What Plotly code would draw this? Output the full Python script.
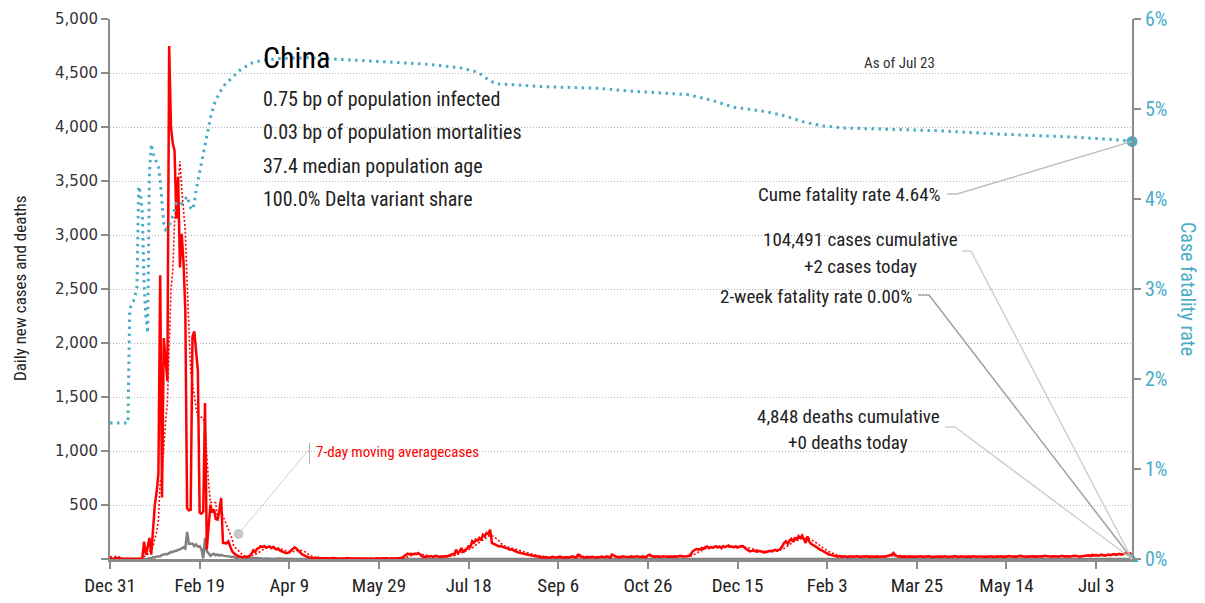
import pandas as pd
import plotly.graph_objects as go

# ── Data ──────────────────────────────────────────────────────────────────────
START_DATE = "2019-12-31"

DAILY_CASES = [
    27, 0, 0, 17, 0, 15, 0, 0, 0, 0,
    0, 0, 0, 0, 0, 0, 0, 0, 4, 160,
    40, 110, 195, 40, 250, 500, 620, 790, 2628, 570,
    2046, 1800, 1650, 4750, 4000, 3850, 3780, 3150, 3540, 2700,
    3010, 2750, 2300, 470, 450, 455, 2060, 2107, 1950, 1745,
    430, 420, 440, 1445, 90, 330, 503, 430, 460, 370,
    364, 450, 565, 150, 148, 145, 163, 110, 75, 55,
    40, 30, 25, 20, 15, 22, 16, 25, 30, 50,
    80, 65, 95, 100, 117, 110, 120, 105, 115, 117,
    100, 112, 95, 88, 93, 75, 70, 60, 55, 55,
    60, 80, 90, 108, 95, 75, 60, 45, 35, 25,
    20, 15, 10, 8, 10, 6, 12, 5, 8, 4,
    6, 7, 3, 5, 9, 4, 6, 3, 2, 5,
    7, 4, 10, 6, 3, 2, 4, 5, 3, 8,
    4, 3, 2, 5, 4, 6, 3, 2, 4, 7,
    3, 5, 2, 4, 6, 3, 5, 2, 4, 3,
    6, 8, 10, 11, 25, 40, 50, 45, 48, 42,
    50, 45, 55, 40, 25, 20, 18, 25, 22, 28,
    20, 25, 30, 22, 18, 25, 20, 28, 24, 30,
    35, 45, 40, 86, 55, 70, 102, 60, 85, 95,
    117, 110, 164, 150, 179, 170, 194, 175, 225, 210,
    241, 230, 272, 148, 140, 133, 125, 117, 120, 110,
    105, 102, 95, 86, 90, 80, 71, 65, 60, 55,
    52, 50, 45, 40, 38, 35, 31, 28, 25, 20,
    18, 15, 12, 18, 14, 10, 16, 20, 15, 12,
    18, 22, 14, 10, 16, 13, 15, 20, 25, 18,
    14, 40, 35, 20, 15, 12, 18, 14, 16, 20,
    15, 12, 18, 14, 22, 20, 16, 25, 18, 14,
    40, 30, 22, 18, 15, 20, 25, 22, 18, 16,
    20, 24, 18, 22, 26, 20, 18, 24, 20, 16,
    35, 40, 28, 22, 20, 25, 22, 18, 24, 26,
    20, 22, 28, 24, 20, 25, 22, 26, 30, 24,
    22, 20, 25, 30, 45, 71, 80, 93, 90, 87,
    102, 95, 110, 117, 100, 110, 105, 112, 118, 108,
    115, 100, 120, 110, 118, 126, 112, 115, 108, 118,
    105, 112, 120, 118, 100, 90, 80, 71, 75, 80,
    72, 68, 75, 70, 65, 60, 65, 70, 75, 72,
    80, 85, 75, 87, 95, 120, 150, 164, 140, 170,
    186, 160, 200, 175, 211, 195, 217, 180, 149, 210,
    160, 140, 133, 120, 110, 95, 87, 80, 70, 56,
    50, 42, 38, 34, 30, 25, 22, 28, 20, 24,
    26, 18, 22, 25, 20, 24, 22, 26, 20, 18,
    25, 22, 28, 20, 24, 22, 26, 20, 24, 18,
    22, 25, 20, 28, 30, 35, 40, 56, 32, 25,
    22, 20, 24, 22, 18, 20, 24, 22, 25, 18,
    20, 24, 26, 20, 22, 18, 22, 25, 20, 16,
    20, 22, 18, 24, 20, 22, 26, 20, 18, 24,
    22, 28, 20, 18, 22, 25, 20, 22, 18, 24,
    20, 22, 26, 20, 18, 22, 24, 20, 18, 22,
    20, 25, 22, 18, 24, 20, 22, 26, 20, 24,
    22, 28, 25, 22, 20, 24, 22, 28, 30, 24,
    22, 26, 20, 24, 28, 25, 22, 20, 24, 26,
    22, 30, 26, 22, 24, 20, 25, 28, 24, 22,
    26, 30, 24, 28, 25, 22, 26, 24, 30, 28,
    24, 22, 26, 28, 32, 30, 35, 28, 40, 32,
    38, 30, 36, 40, 34, 30, 38, 42, 36, 40,
    45, 38, 42, 48, 40, 45, 50, 56, 48, 52,
    2,
]

DAILY_DEATHS = [
    0, 0, 0, 0, 0, 0, 0, 0, 0, 0,
    0, 0, 0, 0, 0, 0, 0, 0, 0, 0,
    1, 3, 8, 8, 16, 15, 24, 26, 26, 38,
    43, 46, 45, 57, 64, 65, 73, 73, 86, 89,
    97, 108, 97, 250, 140, 142, 143, 120, 136, 114,
    118, 90, 5, 195, 71, 52, 29, 44, 47, 35,
    42, 31, 38, 31, 30, 28, 27, 22, 17, 22,
    11, 7, 13, 10, 14, 13, 11, 8, 3, 7,
    6, 9, 7, 4, 6, 5, 3, 5, 4, 1,
    6, 2, 1, 4, 2, 3, 1, 2, 3, 1,
] + [0] * 471

CFR_DATES = [
    "2019-12-31", "2020-01-10", "2020-01-11", "2020-01-12", "2020-01-13",
    "2020-01-14", "2020-01-15", "2020-01-16", "2020-01-17", "2020-01-18",
    "2020-01-19", "2020-01-20", "2020-01-21", "2020-01-22", "2020-01-23",
    "2020-01-24", "2020-01-25", "2020-01-26", "2020-01-27", "2020-01-28",
    "2020-01-29", "2020-01-30", "2020-01-31", "2020-02-01", "2020-02-02",
    "2020-02-03", "2020-02-04", "2020-02-05", "2020-02-06", "2020-02-07",
    "2020-02-08", "2020-02-09", "2020-02-10", "2020-02-11", "2020-02-12",
    "2020-02-13", "2020-02-14", "2020-02-15", "2020-02-16", "2020-02-17",
    "2020-02-18", "2020-02-19", "2020-02-21", "2020-02-23", "2020-02-25",
    "2020-02-27", "2020-03-01", "2020-03-04", "2020-03-08", "2020-03-13",
    "2020-03-19", "2020-03-25", "2020-04-04", "2020-04-19", "2020-05-09",
    "2020-06-08", "2020-06-23", "2020-07-13", "2020-07-23", "2020-07-28",
    "2020-08-02", "2020-08-12", "2020-08-27", "2020-09-28", "2020-10-16",
    "2020-11-17", "2020-11-30", "2020-12-13", "2020-12-31", "2021-01-11",
    "2021-01-22", "2021-02-01", "2021-02-13", "2021-02-28", "2021-04-04",
    "2021-05-11", "2021-06-18", "2021-07-13", "2021-07-23",
]
CFR_PCT = [
    1.51, 1.51, 2.77, 2.83, 2.86,
    2.92, 3.00, 4.14, 4.07, 3.85,
    3.05, 2.70, 2.51, 4.30, 4.61,
    4.50, 4.48, 4.40, 4.36, 4.20,
    3.95, 3.73, 3.66, 3.68, 3.70,
    3.75, 3.82, 3.90, 3.95, 3.95,
    3.97, 3.95, 3.97, 4.00, 4.03,
    3.97, 3.90, 3.88, 3.95, 4.10,
    4.20, 4.32, 4.50, 4.70, 4.90,
    5.05, 5.18, 5.27, 5.35, 5.44,
    5.51, 5.54, 5.56, 5.57, 5.55,
    5.52, 5.50, 5.46, 5.41, 5.34,
    5.28, 5.27, 5.25, 5.23, 5.20,
    5.16, 5.10, 5.02, 4.97, 4.92,
    4.85, 4.81, 4.79, 4.78, 4.76,
    4.72, 4.69, 4.66, 4.64,
]
TWO_WEEK_CFR_PCT = 0.00

TICK_DATES = [
    "2019-12-31", "2020-02-19", "2020-04-09", "2020-05-29", "2020-07-18",
    "2020-09-06", "2020-10-26", "2020-12-15", "2021-02-03", "2021-03-25",
    "2021-05-14", "2021-07-03",
]
TICK_LABELS = [
    "Dec 31", "Feb 19", "Apr 9", "May 29", "Jul 18", "Sep 6", "Oct 26",
    "Dec 15", "Feb 3", "Mar 25", "May 14", "Jul 3",
]
Y_TICKS = [0, 500, 1000, 1500, 2000, 2500, 3000, 3500, 4000, 4500, 5000]
Y_LABELS = ["", "500", "1,000", "1,500", "2,000", "2,500", "3,000",
            "3,500", "4,000", "4,500", "5,000"]
Y2_TICKS = [0, 0.01, 0.02, 0.03, 0.04, 0.05, 0.06]
Y2_LABELS = ["0%", "1%", "2%", "3%", "4%", "5%", "6%"]

INFO_LINES = [
    "0.75 bp of population infected",
    "0.03 bp of population mortalities",
    "37.4 median population age",
    "100.0% Delta variant share",
]

# ── Style ─────────────────────────────────────────────────────────────────────
NARROW = "Liberation Sans Narrow, Arial Narrow, Roboto Condensed, sans-serif"
WIDE = "DejaVu Sans, Verdana, sans-serif"
RED = "#ff0000"
GREY = "#808080"
BLUE = "#4bacc6"
AXIS = "#8c8c8c"

# page body has an 8px default margin, so the figure is shrunk by that much
BODY = 8
W, H = 1205 - BODY, 603 - BODY
# plot area in window pixels, used to place call-outs
PL, PR, PT, PB = 110, 1132, 19, 559


def px(x):
    return (x - PL) / (PR - PL)


def py(y):
    return (PB - y) / (PB - PT)


assert len(DAILY_CASES) == len(DAILY_DEATHS) == 571
assert len(CFR_DATES) == len(CFR_PCT)

dates = pd.date_range(START_DATE, periods=len(DAILY_CASES), freq="D")
cases = pd.Series(DAILY_CASES, index=dates)
cases_avg = cases.rolling(7).mean()
cfr = [v / 100 for v in CFR_PCT]

fig = go.Figure()

fig.add_trace(go.Scatter(
    x=CFR_DATES, y=cfr, yaxis="y2", mode="lines",
    line=dict(color=BLUE, width=3, dash="2.5px,4.5px"),
    hoverinfo="skip",
))
fig.add_trace(go.Scatter(
    x=dates, y=DAILY_DEATHS, mode="lines",
    line=dict(color=GREY, width=2.5), hoverinfo="skip",
))
fig.add_trace(go.Scatter(
    x=dates, y=cases_avg, mode="lines",
    line=dict(color=RED, width=1.6, dash="2px,2px"), hoverinfo="skip",
))
fig.add_trace(go.Scatter(
    x=dates, y=DAILY_CASES, mode="lines",
    line=dict(color=RED, width=2.5), hoverinfo="skip",
))
# end markers
fig.add_trace(go.Scatter(
    x=[dates[-1]], y=[cfr[-1]], yaxis="y2", mode="markers",
    marker=dict(color=BLUE, size=11, symbol="circle"),
    cliponaxis=False, hoverinfo="skip",
))
fig.add_trace(go.Scatter(
    x=[dates[-1]], y=[TWO_WEEK_CFR_PCT / 100], yaxis="y2", mode="markers",
    marker=dict(color=BLUE, size=12, symbol="triangle-up"),
    cliponaxis=False, hoverinfo="skip",
))

# ── Call-outs ─────────────────────────────────────────────────────────────────
cfr_end = cfr[-1] / Y2_TICKS[-1]
shapes = [
    dict(type="path", xref="paper", yref="paper",
         path=f"M{px(947)},{py(194)} L{px(957)},{py(194)} L1,{cfr_end}",
         line=dict(color="#bdbdbd", width=1.5)),
    dict(type="path", xref="paper", yref="paper",
         path=f"M{px(962)},{py(251)} L{px(971)},{py(251)} L1,0",
         line=dict(color="#d0d0d0", width=1.5)),
    dict(type="path", xref="paper", yref="paper",
         path=f"M{px(918)},{py(295)} L{px(929)},{py(295)} L1,0",
         line=dict(color="#a0a0a0", width=1.5)),
    dict(type="path", xref="paper", yref="paper",
         path=f"M{px(945)},{py(427)} L{px(955)},{py(427)} L1,0",
         line=dict(color="#d0d0d0", width=1.5)),
    dict(type="line", xref="paper", yref="paper",
         x0=px(309.5), x1=px(309.5), y0=py(443), y1=py(464),
         line=dict(color="#b0b0b0", width=1)),
    dict(type="line", xref="paper", yref="paper",
         x0=px(308.5), y0=py(450), x1=px(238.5), y1=py(534),
         line=dict(color="#d0d0d0", width=1)),
    dict(type="circle", xref="paper", yref="paper",
         xsizemode="pixel", ysizemode="pixel",
         xanchor=px(238.5), yanchor=py(534),
         x0=-5, x1=5, y0=-5, y1=5,
         fillcolor="#c8c8c8", line=dict(width=0)),
]

annotations = [
    dict(text="China", x=px(261), y=py(58), font=dict(size=30, color="#000")),
    dict(text="As of Jul 23", x=px(899), y=py(62.5), xanchor="center",
         font=dict(size=15, color="#333")),
    dict(text=f"Cume fatality rate {CFR_PCT[-1]:.2f}%", x=px(943), y=py(194),
         xanchor="right", font=dict(size=19, color="#222")),
    dict(text="104,491 cases cumulative", x=px(860), y=py(240), xanchor="center",
         font=dict(size=19, color="#222")),
    dict(text="+2 cases today", x=px(860), y=py(266), xanchor="center",
         font=dict(size=19, color="#222")),
    dict(text=f"2-week fatality rate {TWO_WEEK_CFR_PCT:.2f}%", x=px(914), y=py(296),
         xanchor="right", font=dict(size=19, color="#222")),
    dict(text="4,848 deaths cumulative", x=px(848), y=py(416), xanchor="center",
         font=dict(size=19, color="#222")),
    dict(text="+0 deaths today", x=px(848), y=py(442), xanchor="center",
         font=dict(size=19, color="#222")),
    dict(text="7-day moving averagecases", x=px(314), y=py(452),
         font=dict(size=15, color=RED)),
    dict(text="Daily new cases and deaths", x=px(20), y=py(289), xanchor="center",
         textangle=-90, font=dict(size=17, color="#222")),
    dict(text="Case fatality rate", x=px(1188), y=py(289), xanchor="center",
         textangle=90, font=dict(size=20, color=BLUE)),
]
for i, line in enumerate(INFO_LINES):
    annotations.append(dict(text=line, x=px(261), y=py(98.5 + 33.6 * i),
                            font=dict(size=20, color="#222")))

for a in annotations:
    a.setdefault("xanchor", "left")
    a.setdefault("yanchor", "middle")
    a["xref"] = "paper"
    a["yref"] = "paper"
    a["showarrow"] = False
    a["font"]["family"] = NARROW

fig.update_layout(
    width=W, height=H,
    margin=dict(l=PL - BODY, r=1205 - PR, t=PT - BODY, b=603 - PB, pad=0),
    paper_bgcolor="white", plot_bgcolor="white",
    showlegend=False,
    shapes=shapes,
    annotations=annotations,
    xaxis=dict(
        type="date", automargin=False,
        range=[START_DATE, dates[-1]],
        tickvals=TICK_DATES, ticktext=TICK_LABELS,
        tickfont=dict(family=NARROW, size=19, color="#222"),
        showline=True, linecolor=AXIS, linewidth=3,
        ticks="outside", ticklen=7, tickwidth=2, tickcolor=AXIS,
        showgrid=False, zeroline=False,
    ),
    yaxis=dict(
        automargin=False, ticklabeloverflow="allow",
        range=[0, 5000],
        tickvals=Y_TICKS, ticktext=Y_LABELS,
        tickfont=dict(family=WIDE, size=15, color="#333"),
        showline=True, linecolor=AXIS, linewidth=2,
        ticks="outside", ticklen=7, tickwidth=1.5, tickcolor=AXIS,
        showgrid=True, gridcolor="#b5b5b5", gridwidth=1, griddash="1px,2px",
        zeroline=False,
    ),
    yaxis2=dict(
        automargin=False, ticklabeloverflow="allow",
        overlaying="y", side="right",
        range=[Y2_TICKS[0], Y2_TICKS[-1]],
        tickvals=Y2_TICKS, ticktext=Y2_LABELS,
        tickfont=dict(family=NARROW, size=20, color=BLUE),
        showline=True, linecolor=AXIS, linewidth=2,
        ticks="outside", ticklen=7, tickwidth=1.5, tickcolor=AXIS,
        showgrid=False, zeroline=False,
    ),
)

fig.write_html("out.html")
